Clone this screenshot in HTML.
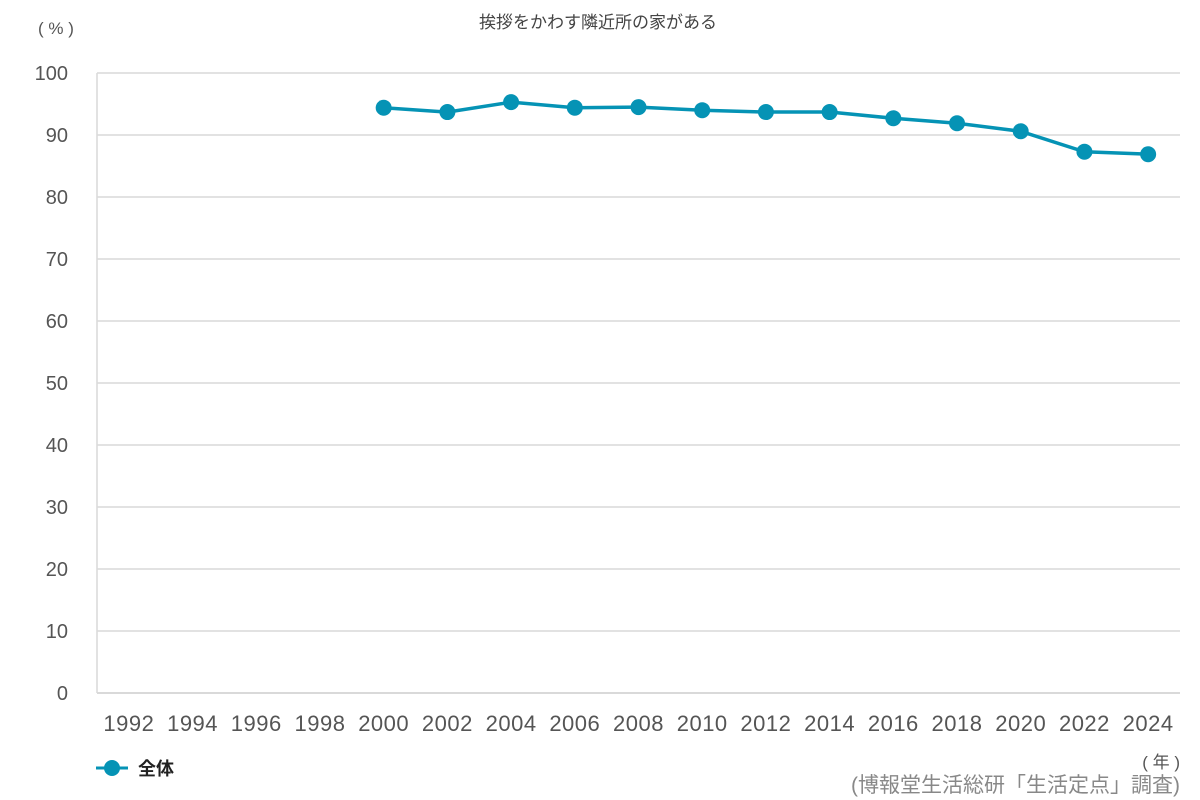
<!DOCTYPE html>
<html><head><meta charset="utf-8"><style>
body{margin:0;background:#fff;font-family:"Liberation Sans","Noto Sans CJK JP",sans-serif;}
</style></head><body>
<svg id="chart" width="1200" height="800" xmlns="http://www.w3.org/2000/svg" style="display:block">
<text x="598" y="28" text-anchor="middle" font-size="17" fill="#444">挨拶をかわす隣近所の家がある</text>
<text x="56" y="34" text-anchor="middle" font-size="17" fill="#555">( % )</text>
<g id="grid"></g>
<g id="yticks"></g>
<g id="xticks"></g>
<g id="series"></g>
<g>
<line x1="96" y1="768" x2="128" y2="768" stroke="#0593b5" stroke-width="3"/>
<circle cx="112" cy="768" r="8" fill="#0593b5"/>
<text x="138" y="775" font-size="18" font-weight="bold" fill="#222">全体</text>
</g>
<text x="1180" y="768" text-anchor="end" font-size="17" fill="#555">( 年 )</text>
<text x="1180" y="792" text-anchor="end" font-size="21" fill="#888">(博報堂生活総研「生活定点」調査)</text>
</svg>
<script>
const categories=["1992","1994","1996","1998","2000","2002","2004","2006","2008","2010","2012","2014","2016","2018","2020","2022","2024"];
const values=[null,null,null,null,94.4,93.7,95.3,94.4,94.5,94.0,93.7,93.7,92.7,91.9,90.6,87.3,86.9];
const yTicks=[0,10,20,30,40,50,60,70,80,90,100];
const ns="http://www.w3.org/2000/svg";
const L=97,R=1180,T=73,B=693;
const bw=(R-L)/categories.length;
const x=i=>L+bw*(i+0.5);
const y=v=>B-(v/100)*(B-T);
function mk(tag,attrs,parent){const e=document.createElementNS(ns,tag);for(const k in attrs)e.setAttribute(k,attrs[k]);parent.appendChild(e);return e;}
const grid=document.getElementById('grid'),yt=document.getElementById('yticks'),xt=document.getElementById('xticks'),s=document.getElementById('series');
yTicks.forEach(v=>{
 const ln=mk('line',{x1:L,x2:R,y1:y(v),y2:y(v),stroke:'#d9d9d9','stroke-width':v===0?2:1.5},grid);
 
 
 const t=mk('text',{x:68,y:y(v)+7,'text-anchor':'end','font-size':20,fill:'#555'},yt);
 t.textContent=v;
 
 
});
const ax=mk('line',{x1:L,x2:L,y1:T,y2:B,stroke:'#d9d9d9','stroke-width':1.5},grid);


categories.forEach((c,i)=>{
 const t=mk('text',{x:x(i),y:731,'text-anchor':'middle','font-size':22,'letter-spacing':0.5,fill:'#555'},xt);
 t.textContent=c;
 
 
});
let d='';values.forEach((v,i)=>{if(v==null)return;d+=(d?'L':'M')+x(i)+','+y(v);});
const p=mk('path',{d:d,fill:'none',stroke:'#0593b5','stroke-width':3.5},s);


values.forEach((v,i)=>{if(v==null)return;
 const c=mk('circle',{cx:x(i),cy:y(v),r:8,fill:'#0593b5'},s);
 
 
});
</script>
</body></html>
